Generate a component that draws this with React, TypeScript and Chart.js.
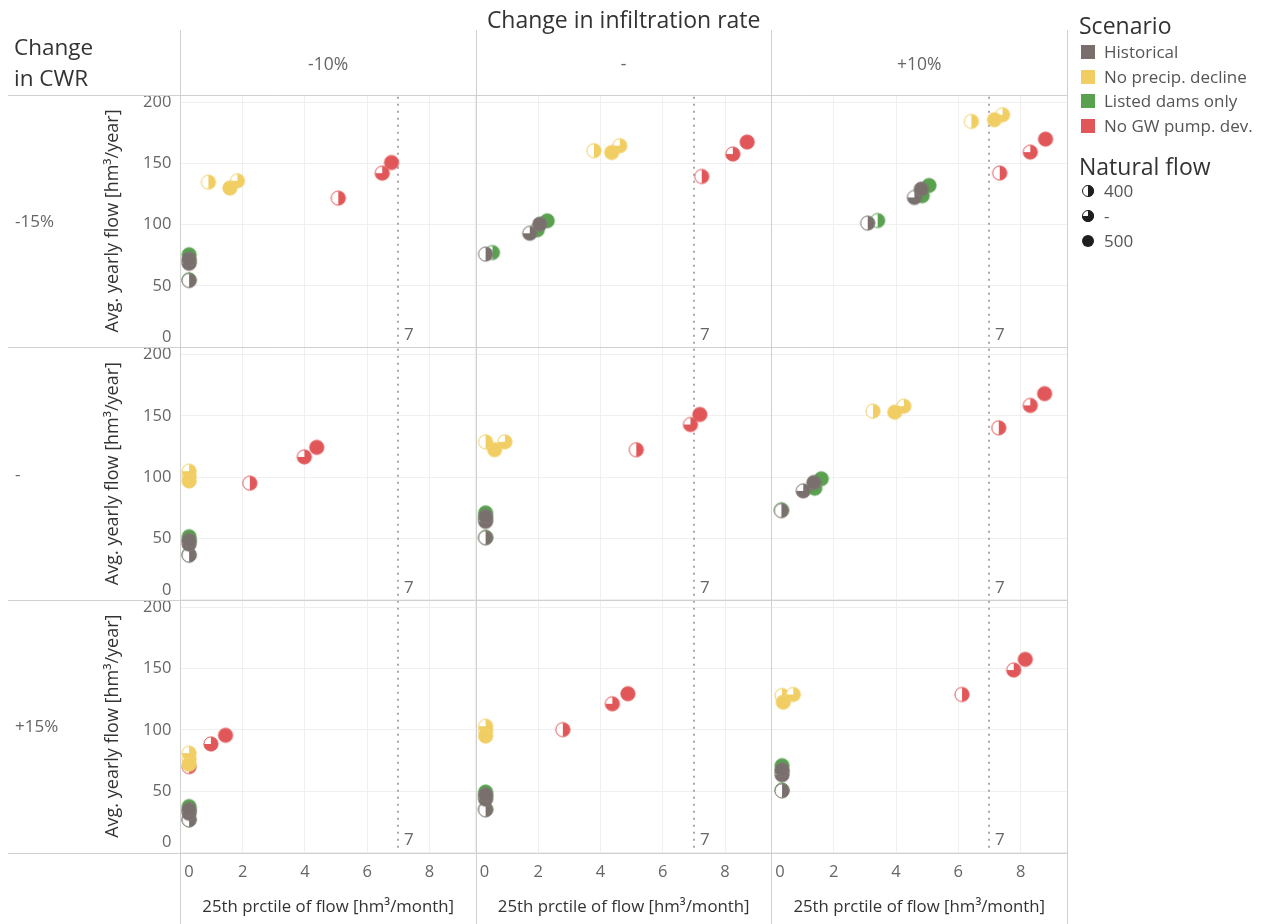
import React, { useEffect, useRef } from 'react';
import { Chart, registerables } from 'chart.js';

Chart.register(...registerables);

// ---------- data ----------
const mainTitle = 'Change in infiltration rate';
const rowHeaderTitle = ['Change', 'in CWR'];
const colLabels = ['-10%', '-', '+10%'];
const rowLabels = ['-15%', '-', '+15%'];
const scenarios = ['Historical', 'No precip. decline', 'Listed dams only', 'No GW pump. dev.'];
const scenarioColors = ['#79706E', '#F1CE63', '#59A14F', '#E15759'];
const naturalFlows = ['400', '-', '500'];
const yTicks = [0, 50, 100, 150, 200];
const xTicks = [0, 2, 4, 6, 8];
const referenceX = 7;
const yTitle = 'Avg. yearly flow [hm³/year]';
const xTitle = '25th prctile of flow [hm³/month]';

// each pane: values for natural flow [400, '-', 500]; panes in reading order
const historicalX = [
  [0.28, 0.28, 0.28], [0.31, 1.73, 2.05], [3.09, 4.59, 4.81],
  [0.28, 0.28, 0.28], [0.31, 0.31, 0.31], [0.32, 1.02, 1.36],
  [0.28, 0.28, 0.28], [0.31, 0.31, 0.31], [0.34, 0.34, 0.34],
];
const historicalY = [
  [54.5, 68.5, 72], [76, 93, 100.5], [101.3, 122.2, 129],
  [36.5, 45.5, 48.5], [50.7, 64, 68], [72.8, 88.9, 95.7],
  [26.6, 32, 35], [34.8, 43.5, 47], [50.3, 63.4, 67.5],
];
const precipX = [
  [0.9, 1.83, 1.59], [3.79, 4.62, 4.36], [6.42, 7.42, 7.16],
  [0.28, 0.28, 0.28], [0.31, 0.93, 0.6], [3.26, 4.25, 3.96],
  [0.28, 0.28, 0.28], [0.31, 0.31, 0.31], [0.34, 0.7, 0.38],
];
const precipY = [
  [134.7, 135.8, 129.9], [160.3, 164.4, 158.9], [184.2, 189.6, 185.6],
  [101, 105, 97], [128.9, 128.9, 122.5], [153.9, 158, 153.1],
  [76, 81, 72], [99, 103, 95], [128, 128.9, 122.6],
];
const damsX = [
  [0.28, 0.28, 0.28], [0.53, 1.97, 2.29], [3.41, 4.84, 5.06],
  [0.28, 0.28, 0.28], [0.31, 0.31, 0.31], [0.32, 1.39, 1.6],
  [0.28, 0.28, 0.28], [0.31, 0.31, 0.31], [0.34, 0.34, 0.34],
];
const damsY = [
  [55, 70, 75.5], [77.3, 95.8, 103.2], [103.4, 123.6, 132],
  [37, 48, 51.5], [51, 66, 71], [73.5, 91.1, 98.8],
  [27, 34, 37.5], [35.5, 45.5, 49.3], [51, 66, 70.8],
];
const gwX = [
  [5.07, 6.48, 6.78], [7.25, 8.25, 8.71], [7.33, 8.31, 8.8],
  [2.23, 3.98, 4.38], [5.15, 6.89, 7.19], [7.3, 8.31, 8.77],
  [0.28, 0.98, 1.45], [2.79, 4.38, 4.88], [6.12, 7.78, 8.15],
];
const gwY = [
  [121.7, 142, 150.7], [139.3, 157.6, 167.4], [142.1, 159.2, 169.8],
  [95.2, 116.6, 124.4], [122.5, 143, 151.2], [140.3, 158.6, 168.2],
  [70, 88.5, 95.6], [100.2, 121.3, 129.5], [128.9, 148.8, 157.5],
];
const seriesX = [historicalX, precipX, damsX, gwX];
const seriesY = [historicalY, precipY, damsY, gwY];

// ---------- layout ----------
const W = 1263;
const H = 924;
const AREA = { left: 180.4, top: 94.7, right: 1067, bottom: 852.5 };
const X_MAX = 9.49;
const Y_MAX = 206;
const FONT = '"Open Sans", sans-serif';

type Kind = 'half' | 'threeq' | 'full';
const kinds: Kind[] = ['half', 'threeq', 'full'];

function makeMarker(color: string, kind: Kind): HTMLCanvasElement {
  const c = document.createElement('canvas');
  c.width = 18;
  c.height = 18;
  const ctx = c.getContext('2d')!;
  const cx = 9, cy = 9, r = 7.1;
  ctx.beginPath();
  ctx.arc(cx, cy, r, 0, Math.PI * 2);
  ctx.fillStyle = '#ffffff';
  ctx.fill();
  ctx.beginPath();
  if (kind === 'full') {
    ctx.arc(cx, cy, r, 0, Math.PI * 2);
  } else if (kind === 'half') {
    ctx.moveTo(cx, cy);
    ctx.arc(cx, cy, r, -Math.PI / 2, Math.PI / 2, false);
    ctx.closePath();
  } else {
    ctx.moveTo(cx, cy);
    ctx.arc(cx, cy, r, -Math.PI / 2, Math.PI, false);
    ctx.closePath();
  }
  ctx.fillStyle = color;
  ctx.fill();
  ctx.beginPath();
  ctx.arc(cx, cy, r, 0, Math.PI * 2);
  ctx.strokeStyle = color;
  ctx.lineWidth = 1;
  ctx.stroke();
  return c;
}

const facetPlugin = {
  id: 'facets',
  beforeDatasetsDraw(chart: any) {
    const ctx = chart.ctx as CanvasRenderingContext2D;
    const ca = chart.chartArea;
    ctx.save();
    // reference lines
    ctx.strokeStyle = '#a8a8a8';
    ctx.lineWidth = 2;
    ctx.setLineDash([2, 5]);
    for (let c = 0; c < 3; c++) {
      const xs = chart.scales['x' + c];
      const px = Math.round(xs.getPixelForValue(referenceX));
      ctx.beginPath();
      ctx.moveTo(px, ca.top + 2);
      ctx.lineTo(px, ca.bottom);
      ctx.stroke();
    }
    ctx.setLineDash([]);
    ctx.fillStyle = '#666666';
    ctx.font = '17px ' + FONT;
    ctx.textBaseline = 'middle';
    ctx.textAlign = 'left';
    for (let r = 0; r < 3; r++) {
      const ys = chart.scales['y' + r];
      for (let c = 0; c < 3; c++) {
        const xs = chart.scales['x' + c];
        const px = Math.round(xs.getPixelForValue(referenceX));
        ctx.fillText(String(referenceX), px + 6, ys.bottom - 12);
      }
    }
    // separators
    ctx.strokeStyle = '#d0d0d0';
    ctx.lineWidth = 1;
    const hs = [ca.top, chart.scales.y0.bottom, chart.scales.y1.bottom, ca.bottom];
    hs.forEach((y: number) => {
      const yy = Math.round(y) + 0.5;
      ctx.beginPath();
      ctx.moveTo(8, yy);
      ctx.lineTo(ca.right, yy);
      ctx.stroke();
    });
    const vs = [ca.left, chart.scales.x0.right, chart.scales.x1.right, ca.right];
    vs.forEach((x: number) => {
      const xx = Math.round(x) + 0.5;
      ctx.beginPath();
      ctx.moveTo(xx, 30);
      ctx.lineTo(xx, H);
      ctx.stroke();
    });
    ctx.restore();
  },
};

function LegendPie({ kind }: { kind: Kind }) {
  const fill = '#1f1f1f';
  let shape: React.ReactNode;
  if (kind === 'full') shape = <circle cx={7} cy={7} r={6} fill={fill} />;
  else if (kind === 'half')
    shape = (
      <>
        <circle cx={7} cy={7} r={5.5} fill="#fff" stroke={fill} strokeWidth={1} />
        <path d="M7,1 A6,6 0 0 1 7,13 Z" fill={fill} />
      </>
    );
  else
    shape = (
      <>
        <circle cx={7} cy={7} r={5.5} fill="#fff" stroke={fill} strokeWidth={1} />
        <path d="M7,7 L7,1 A6,6 0 1 1 1,7 Z" fill={fill} />
      </>
    );
  return (
    <svg width={14} height={14} style={{ position: 'absolute', left: 0, top: 5 }}>
      {shape}
    </svg>
  );
}

export default function App() {
  const ref = useRef<HTMLCanvasElement>(null);

  useEffect(() => {
    const canvas = ref.current!;
    const markers = scenarioColors.map((col) => kinds.map((k) => makeMarker(col, k)));

    const scales: any = {};
    for (let r = 2; r >= 0; r--) {
      scales['y' + r] = {
        type: 'linear',
        position: 'left',
        stack: 'rows',
        stackWeight: 1,
        min: 0,
        max: Y_MAX,
        afterBuildTicks: (s: any) => {
          s.ticks = yTicks.map((v) => ({ value: v }));
        },
        afterFit: (s: any) => {
          s.width = AREA.left - 100.4;
        },
        grid: { color: '#efefef', drawTicks: false, lineWidth: 1 },
        border: { display: false },
        ticks: {
          autoSkip: false,
          padding: 9,
          color: '#666666',
          font: { family: FONT, size: 16.5 },
          callback: (v: number) => (v === 0 ? ['0', ''] : String(v)),
        },
        title: {
          display: true,
          text: yTitle,
          color: '#333333',
          font: { family: FONT, size: 18 },
          padding: { top: 2, bottom: 0 },
        },
      };
    }
    for (let c = 0; c < 3; c++) {
      scales['x' + c] = {
        type: 'linear',
        position: 'bottom',
        stack: 'cols',
        stackWeight: 1,
        min: 0,
        max: X_MAX,
        afterBuildTicks: (s: any) => {
          s.ticks = xTicks.map((v) => ({ value: v }));
        },
        afterFit: (s: any) => {
          s.height = H - AREA.bottom;
        },
        grid: { color: '#efefef', drawTicks: false, lineWidth: 1 },
        border: { display: false },
        ticks: {
          autoSkip: false,
          maxRotation: 0,
          padding: 10,
          color: '#666666',
          font: { family: FONT, size: 16.5 },
          callback: (v: number) => (v === 0 ? '    0' : String(v)),
        },
        title: {
          display: true,
          text: xTitle,
          color: '#333333',
          font: { family: FONT, size: 16.8 },
          padding: { top: 0, bottom: 7 },
        },
      };
    }

    const datasets: any[] = [];
    for (let p = 0; p < 9; p++) {
      const r = Math.floor(p / 3);
      const c = p % 3;
      scenarios.forEach((name, s) => {
        datasets.push({
          label: name,
          xAxisID: 'x' + c,
          yAxisID: 'y' + r,
          data: naturalFlows.map((nf, k) => ({ x: seriesX[s][p][k], y: seriesY[s][p][k] })),
          pointStyle: markers[s],
          pointRadius: 7,
          clip: false,
          showLine: false,
        });
      });
    }

    const chart = new Chart(canvas, {
      type: 'scatter',
      data: { datasets },
      options: {
        animation: false,
        responsive: false,
        devicePixelRatio: 1,
        events: [],
        layout: {
          padding: {
            left: 100.4,
            top: AREA.top,
            right: W - AREA.right,
            bottom: 0,
          },
        },
        plugins: { legend: { display: false }, tooltip: { enabled: false } },
        scales,
      },
      plugins: [facetPlugin],
    });
    return () => chart.destroy();
  }, []);

  const colW = (AREA.right - AREA.left) / 3;
  const rowH = (AREA.bottom - AREA.top) / 3;
  const txt: React.CSSProperties = { position: 'absolute', fontFamily: FONT, whiteSpace: 'nowrap' };

  return (
    <div style={{ position: 'absolute', left: 0, top: 0, width: W, height: H, background: '#fff', overflow: 'hidden' }}>
      <canvas ref={ref} width={W} height={H} style={{ position: 'absolute', left: 0, top: 0, width: W, height: H }} />
      <div style={{ ...txt, left: AREA.left, width: AREA.right - AREA.left, top: 5, lineHeight: '28px', fontSize: 23, color: '#333', textAlign: 'center' }}>
        {mainTitle}
      </div>
      {colLabels.map((l, i) => (
        <div key={'c' + i} style={{ ...txt, left: AREA.left + i * colW, width: colW, top: 50, lineHeight: '26px', fontSize: 17.5, color: '#666', textAlign: 'center' }}>
          {l}
        </div>
      ))}
      <div style={{ ...txt, left: 14, top: 31, lineHeight: '31px', fontSize: 22.5, color: '#333' }}>
        {rowHeaderTitle[0]}
        <br />
        {rowHeaderTitle[1]}
      </div>
      {rowLabels.map((l, i) => (
        <div key={'r' + i} style={{ ...txt, left: 15, top: AREA.top + (i + 0.5) * rowH - 13, lineHeight: '26px', fontSize: 17, color: '#666' }}>
          {l}
        </div>
      ))}
      <div style={{ ...txt, left: 1079, top: 11, lineHeight: '28px', fontSize: 23, color: '#333' }}>Scenario</div>
      {scenarios.map((s, i) => (
        <div key={'s' + i} style={{ ...txt, left: 1081, top: 40 + i * 24.5, height: 24, lineHeight: '24px', fontSize: 17, color: '#555' }}>
          <span style={{ position: 'absolute', left: 0, top: 5, width: 14, height: 14, background: scenarioColors[i] }} />
          <span style={{ position: 'absolute', left: 23 }}>{s}</span>
        </div>
      ))}
      <div style={{ ...txt, left: 1079, top: 152, lineHeight: '28px', fontSize: 23, color: '#333' }}>Natural flow</div>
      {naturalFlows.map((n, i) => (
        <div key={'n' + i} style={{ ...txt, left: 1081, top: 179 + i * 25, height: 24, lineHeight: '24px', fontSize: 17, color: '#555' }}>
          <LegendPie kind={kinds[i]} />
          <span style={{ position: 'absolute', left: 23 }}>{n}</span>
        </div>
      ))}
    </div>
  );
}
